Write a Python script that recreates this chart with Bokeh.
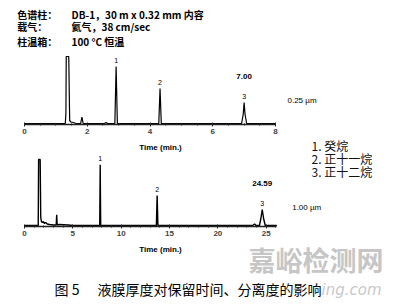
from bokeh.plotting import figure
from bokeh.models import Range1d, FixedTicker
from bokeh.layouts import column
from bokeh.core.properties import value
from bokeh.embed import file_html
from bokeh.resources import INLINE

# ---------------- data ----------------
# 0.25 um film, run time in minutes, detector response (arbitrary units)
top_time = [0.0, 0.5, 1.0, 1.30, 1.32, 1.33, 1.41, 1.44, 1.48, 1.55, 1.65, 1.79,
            1.83, 1.87, 2.0, 2.55, 2.60, 2.65, 2.88, 2.92, 2.96, 3.2, 4.0, 4.28,
            4.32, 4.36, 4.6, 5.5, 6.5, 6.92, 6.97, 7.00, 7.03, 7.08, 7.5, 8.0]
top_resp = [0, 0, 0, 0, 10, 67, 67, 3, 1.5, 1, 0, 0,
            6.5, 0, 0, 0, 1, 0, 0, 57, 0, 0, 0, 0,
            35, 0, 0, 0, 0, 0, 9, 21, 9, 0, 0, 0]
top_peak_time = [2.92, 4.32, 7.00]
top_peak_resp = [57, 35, 21]
top_ticks = [0, 2, 4, 6, 8]

# 1.00 um film
bot_time = [0.0, 1.0, 1.42, 1.46, 1.62, 1.68, 1.75, 1.85, 1.95, 2.05, 2.2, 2.35,
            2.6, 3.0, 3.28, 3.33, 3.38, 3.6, 4.5, 5.0, 7.0, 7.78, 7.83, 7.88,
            8.2, 13.0, 13.64, 13.72, 13.80, 14.3, 20.0, 23.6, 23.8, 23.95, 24.3,
            24.45, 24.59, 24.73, 24.9, 26.1]
bot_resp = [0, 0, 0, 66, 66, 8, 4, 3, 4, 2, 3, 1.5,
            1, 0.5, 0.5, 10.7, 0.5, 1, 0.5, 0, 0, 0, 60.7, 0,
            0, 0, 0, 30, 0, 0, 0, 0, 1.5, 0, 0,
            7, 16, 7, 0, 0]
bot_peak_time = [7.83, 13.72, 24.59]
bot_peak_resp = [60.7, 30, 16]
bot_ticks = [0, 5, 10, 15, 20, 25]

peak_labels = ["1", "2", "3"]
legend_lines = ["1.  癸烷", "2.  正十一烷", "3.  正十二烷"]
header_keys = ["色谱柱：", "载气：", "柱温箱："]
header_vals = ["DB-1，30 m x 0.32 mm 内容", "氦气，38 cm/sec", "100 °C 恒温"]
top_rt_label = "7.00"
bot_rt_label = "24.59"
top_film = "0.25 µm"
bot_film = "1.00 µm"
axis_title = "Time (min.)"
caption_num = "图 5"
caption_text = "液膜厚度对保留时间、分离度的影响"

# ---------------- layout helpers ----------------
W = 399
X0 = 24                     # pixel of t = 0
SA = (275 - X0) / 8.0       # px per minute, top chart
SB = (265.7 - X0) / 25.0    # px per minute, bottom chart
LAT = value("Liberation Sans")
CJK = value("Noto Sans CJK SC")


def base_fig(height, xr, yr, border_bottom):
    p = figure(width=W, height=height, x_range=xr, y_range=yr,
               output_backend="svg", toolbar_location=None,
               y_axis_location=None, min_border_left=0, min_border_right=0,
               min_border_top=0, min_border_bottom=border_bottom)
    p.xgrid.visible = False
    p.ygrid.visible = False
    p.outline_line_color = None
    p.background_fill_color = "white"
    p.border_fill_color = "white"
    return p


def style_axis(p, ticks, minor, bounds):
    ax = p.xaxis[0]
    ax.ticker = FixedTicker(ticks=ticks, minor_ticks=minor)
    ax.bounds = bounds
    ax.axis_line_width = 1.6
    ax.axis_line_color = "#222222"
    ax.major_tick_in = 2
    ax.major_tick_out = 2
    ax.minor_tick_in = 1
    ax.minor_tick_out = 1
    ax.major_tick_line_color = "#222222"
    ax.minor_tick_line_color = "#222222"
    ax.major_label_text_font = "Liberation Sans"
    ax.major_label_text_font_style = "bold"
    ax.major_label_text_font_size = "8px"
    ax.major_label_standoff = 2


# ---------------- top chromatogram (0.25 um) ----------------
pa = base_fig(138, Range1d(-X0 / SA, (W - X0) / SA), Range1d(-1, 123), 14)
style_axis(pa, top_ticks, [i * 0.5 for i in range(17)], (0, 8))
pa.line(top_time, top_resp, line_color="black", line_width=1.2)
pa.text(top_peak_time, [h + 6 for h in top_peak_resp], text=peak_labels,
        text_font=LAT, text_font_size="7px", text_align="center",
        text_baseline="middle", text_color="black")
pa.text([7.0], [47], text=[top_rt_label], text_font=LAT, text_font_size="8px",
        text_font_style="bold", text_align="center", text_baseline="middle")
pa.text([(287 - X0) / SA], [23], text=[top_film], text_font=LAT,
        text_font_size="8px", text_align="left", text_baseline="middle")
hy = [123 - 14, 123 - 26, 123 - 41]
pa.text([(16.7 - X0) / SA] * 3, hy, text=header_keys, text_font=CJK,
        text_font_size="10px", text_font_style="bold", text_align="left",
        text_baseline="middle")
pa.text([(71 - X0) / SA] * 3, hy, text=header_vals, text_font=CJK,
        text_font_size="10px", text_font_style="bold", text_align="left",
        text_baseline="middle")

# ---------------- bottom chromatogram (1.00 um) ----------------
pb = base_fig(102, Range1d(-X0 / SB, (W - X0) / SB), Range1d(-1, 87), 14)
style_axis(pb, bot_ticks, list(range(27)), (0, 26.1))
pb.line(bot_time, bot_resp, line_color="black", line_width=1.4)
pb.text(bot_peak_time, [h + 6 for h in bot_peak_resp], text=peak_labels,
        text_font=LAT, text_font_size="7px", text_align="center",
        text_baseline="middle", text_color="black")
pb.text([24.59], [41.7], text=[bot_rt_label], text_font=LAT,
        text_font_size="8px", text_font_style="bold", text_align="center",
        text_baseline="middle")
pb.text([(291.7 - X0) / SB], [18.3], text=[bot_film], text_font=LAT,
        text_font_size="8px", text_align="left", text_baseline="middle")
pb.text([(160 - X0) / SB], [225 - 147], text=[axis_title], text_font=LAT,
        text_font_size="8px", text_font_style="bold", text_align="center",
        text_baseline="middle")
pb.text([(311 - X0) / SB] * 3, [225 - 145, 225 - 158, 225 - 171],
        text=legend_lines, text_font=CJK, text_font_size="12px",
        text_align="left", text_baseline="middle", text_color="#111111")

# ---------------- caption strip ----------------
pc = base_fig(64, Range1d(0, W), Range1d(304, 240), 0)
pc.xaxis.visible = False
pc.text([248], [259], text=["嘉峪检测网"], text_font=CJK, text_font_size="27px",
        text_font_style="bold", text_color="#c6c6c6", text_align="left",
        text_baseline="middle")
pc.text([321], [289], text=["ing.com"], text_font=value("DejaVu Sans"),
        text_font_size="15px", text_font_style="italic", text_color="#c8c8c8",
        text_align="left", text_baseline="middle")
pc.text([160], [249], text=[axis_title], text_font=LAT, text_font_size="8px",
        text_font_style="bold", text_align="center", text_baseline="middle")
pc.text([54], [288], text=[caption_num], text_font=CJK, text_font_size="14px",
        text_align="left", text_baseline="middle")
pc.text([97], [288], text=[caption_text], text_font=CJK, text_font_size="14px",
        text_align="left", text_baseline="middle")

layout = column(pa, pb, pc, spacing=0)
open("out.html", "w").write(file_html(layout, INLINE))
